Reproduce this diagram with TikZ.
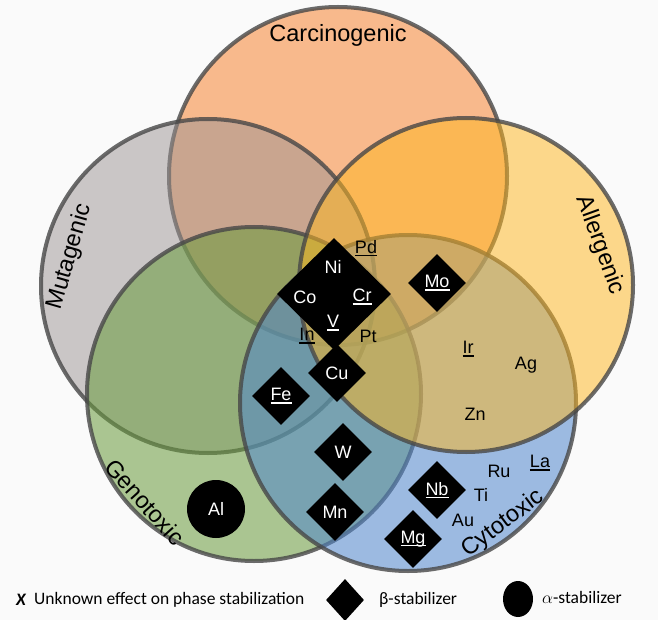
\documentclass[tikz,border=0pt]{standalone}
\usepackage{fontspec}
\setmainfont{Liberation Sans}
\newfontfamily\legfont{Carlito}
\usetikzlibrary{shapes.geometric}
\definecolor{bgcol}{RGB}{250,250,250}
\definecolor{carc}{RGB}{247,142,68}
\definecolor{muta}{RGB}{155,147,147}
\definecolor{gene}{RGB}{105,155,60}
\definecolor{cyto}{RGB}{80,135,205}
\definecolor{alle}{RGB}{255,183,32}
\newcommand{\elfont}{\fontsize{18}{20}\selectfont}
\newcommand{\setfont}{\fontsize{23.5}{26}\selectfont}
\newcommand{\elul}[1]{\setbox0\hbox{#1}\rlap{\rule[-2.8pt]{\wd0}{1.3pt}}\box0}
\tikzset{
  set/.style 2 args={fill=#1, fill opacity=#2, draw=black!72, draw opacity=0.8, line width=4pt},
  setlabel/.style={font=\setfont, inner sep=0pt},
  beta/.style={diamond, fill=black, text=white, minimum width=58pt, minimum height=58pt, inner sep=0pt, font=\elfont},
  alpha/.style={circle, fill=black, text=white, minimum size=58pt, inner sep=0pt, font=\elfont},
  el/.style={font=\elfont, inner sep=0pt},
  wel/.style={el, text=white},
  leg/.style={font=\legfont\fontsize{17.5}{20}\selectfont, inner sep=0pt, anchor=west},
}
\begin{document}
\begin{tikzpicture}[x=1pt, y=-1pt]
  \fill[bgcol] (0,0) rectangle (658,620);
  \useasboundingbox (0,0) rectangle (658,620);
  \coordinate (carcC) at (338,176);
  \coordinate (mutaC) at (208,286);
  \coordinate (geneC) at (254,394);
  \coordinate (cytoC) at (408,403);
  \coordinate (alleC) at (466,285);
  \path[set={carc}{0.6}] (carcC) circle (169);
  \path[set={muta}{0.5}] (mutaC) circle (167);
  \path[set={gene}{0.55}] (geneC) circle (167);
  \path[set={cyto}{0.55}] (cytoC) circle (168);
  \path[set={alle}{0.515}] (alleC) circle (167);

  \node[setlabel] (carcL) at (338,35) {Carcinogenic};
  \node[setlabel, rotate=74] (mutaL) at (70,257) {Mutagenic};
  \node[setlabel, rotate=-70] (alleL) at (600,245) {Allergenic};
  \node[setlabel, rotate=-48] (geneL) at (145,502) {Genotoxic};
  \node[setlabel, rotate=37] (cytoL) at (503,524) {Cytotoxic};

  \node[beta, minimum width=114pt, minimum height=112pt] (big) at (334,294) {};
  \node[wel] (ni) at (333,267) {Ni};
  \node[wel] (co) at (305,297) {Co};
  \node[wel] (cr) at (362,297) {\elul{Cr}};
  \node[wel] (v) at (333,323) {\elul{V}};
  \node[el] (pd) at (366,248) {\elul{Pd}};
  \node[el] (in) at (307,336) {\elul{In}};
  \node[el] (pt) at (368,336) {Pt};
  \node[beta] (cu) at (337,373) {Cu};
  \node[beta] (mo) at (437,283) {\elul{Mo}};
  \node[beta] (fe) at (281,396) {\elul{Fe}};
  \node[beta] (w) at (343,452) {W};
  \node[beta] (mn) at (335,512) {Mn};
  \node[beta] (nb) at (437,490) {\elul{Nb}};
  \node[beta] (mg) at (413,539) {\elul{Mg}};
  \node[alpha] (al) at (216,509) {Al};
  \node[el] (ir) at (468,349) {\elul{Ir}};
  \node[el] (ag) at (526,365) {Ag};
  \node[el] (zn) at (475,414) {Zn};
  \node[el] (ru) at (499,471) {Ru};
  \node[el] (la) at (540,463) {\elul{La}};
  \node[el] (ti) at (481,495) {Ti};
  \node[el] (au) at (463,520) {Au};

  \node[leg, anchor=center, font=\legfont\fontsize{17.5}{20}\selectfont\bfseries\itshape] (x) at (21,600) {X};
  \node[leg] (unk) at (34,600) {Unknown effect on phase stabilization};
  \node[diamond, fill=black, minimum width=38pt, minimum height=42pt, inner sep=0pt] (legb) at (345,600) {};
  \node[leg] (betaL) at (379,600) {β-stabilizer};
  \node[ellipse, fill=black, minimum width=30pt, minimum height=36pt, inner sep=0pt] (lega) at (518,599) {};
  \node[leg] (alphaL) at (542,597) {$\alpha$-stabilizer};
\end{tikzpicture}
\end{document}
